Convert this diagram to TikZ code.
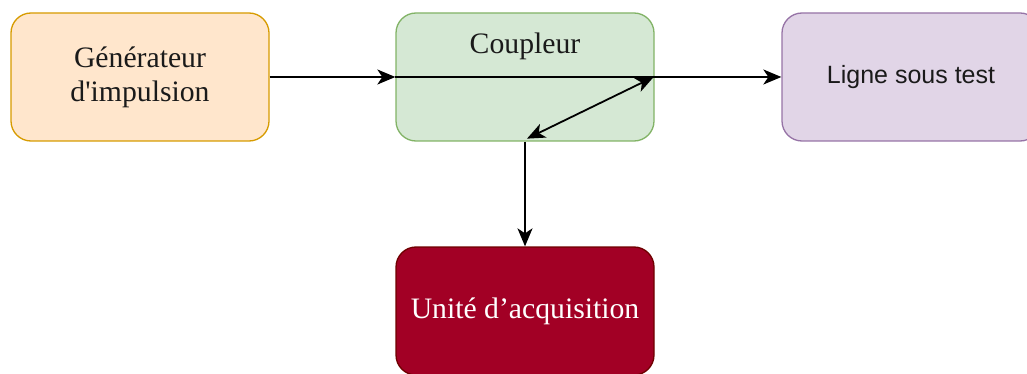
\documentclass[tikz,border=0pt]{standalone}
\usepackage{fontspec}
\setmainfont{Liberation Serif}
\newfontfamily\plainserif{Liberation Serif}
\newfontfamily\helv{Liberation Sans}
\usetikzlibrary{arrows.meta}
\definecolor{orfill}{HTML}{FFE6CC}
\definecolor{ordraw}{HTML}{D79B00}
\definecolor{grfill}{HTML}{D5E8D4}
\definecolor{grdraw}{HTML}{82B366}
\definecolor{pufill}{HTML}{E1D5E7}
\definecolor{pudraw}{HTML}{9673A6}
\definecolor{rdfill}{HTML}{A20025}
\definecolor{rddraw}{HTML}{6F0000}
\definecolor{txt}{HTML}{1A1A1A}
\tikzset{
  box/.style={rounded corners=20pt, minimum width=258pt, minimum height=128pt,
    line width=1.3pt, inner sep=0pt, align=center, text=txt,
    font=\fontsize{29.7pt}{34pt}\selectfont},
  tip/.tip={Stealth[length=18pt,width=15pt,inset=5pt]},
  conn/.style={line width=1.8pt, draw=black, -tip},
  dconn/.style={line width=1.8pt, draw=black, tip-tip}
}
\begin{document}
\begin{tikzpicture}[x=1pt,y=-1pt]
\useasboundingbox (0,0) rectangle (1027,374);
\clip (0,0) rectangle (1027,374);
\node[box, fill=orfill, draw=ordraw, font=\plainserif\fontsize{29.7pt}{34pt}\selectfont] (gen) at (140,77) {Générateur\\d'impulsion};
\node[box, fill=grfill, draw=grdraw] (coup) at (525,77) {};
\node[font=\fontsize{29.7pt}{34pt}\selectfont, text=txt, anchor=base] (cl) at (525,54) {Coupleur};
\node[box, fill=pufill, draw=pudraw, font=\helv\fontsize{25pt}{30pt}\selectfont] (ligne) at (911,77) {Ligne sous test};
\node[box, fill=rdfill, draw=rddraw, text=white] (acq) at (525,311) {Unité d’acquisition};
\draw[conn] (gen.east) -- (coup.west);
\draw[conn] (coup.west) -- (ligne.west);
\draw[dconn] ([xshift=-1pt]coup.east) -- ([xshift=2pt,yshift=3pt]coup.south);
\draw[conn] (coup.south) -- (acq.north);
\end{tikzpicture}
\end{document}
